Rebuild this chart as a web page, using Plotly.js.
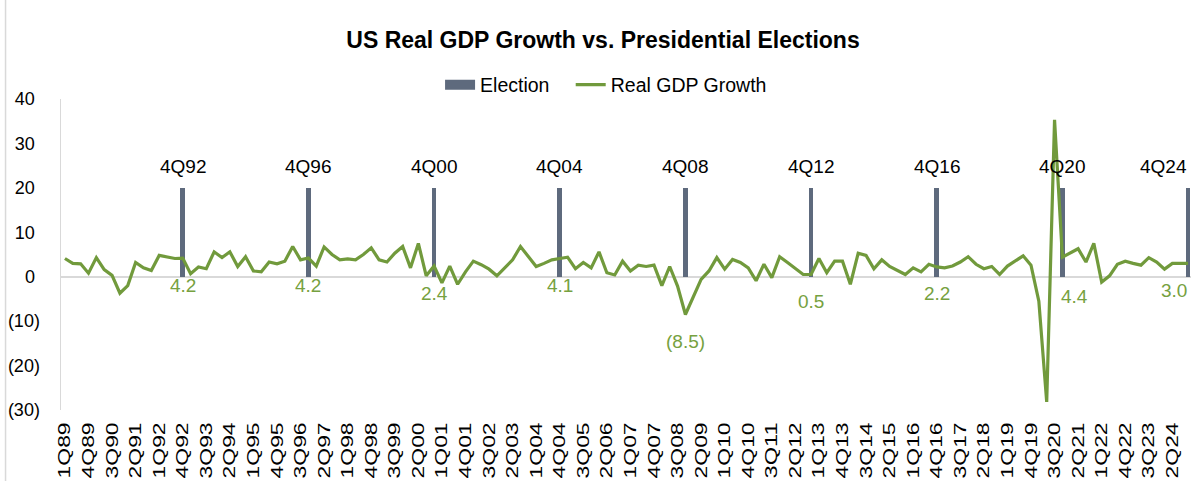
<!DOCTYPE html>
<html>
<head>
<meta charset="utf-8">
<script src="https://cdn.plot.ly/plotly-3.0.1.min.js"></script>
<style>
  html, body { margin: 0; padding: 0; overflow: hidden; background: #ffffff; }
  #chart { width: 1200px; height: 481px; }
</style>
</head>
<body>
<div id="chart"></div>
<script>
// ---------------- DATA ----------------
const startYear = 1989;
const endYear = 2024;

// Real GDP growth, quarterly annualized %, 1Q89 ... 4Q24
const gdpGrowth = [
  4.1, 3.0, 2.9, 0.8, 4.3, 1.6, 0.3, -3.7, -2.0, 3.2, 2.0, 1.4, 4.8, 4.4, 4.1, 4.2, 0.7, 2.2,
  1.8, 5.6, 4.3, 5.6, 2.3, 4.5, 1.3, 1.1, 3.3, 2.9, 3.5, 6.8, 3.8, 4.2, 2.4, 6.7, 5.0, 3.8,
  4.0, 3.8, 5.0, 6.5, 3.8, 3.3, 5.3, 6.8, 2.0, 7.5, 0.2, 2.4, -1.4, 2.4, -1.7, 1.1, 3.5, 2.7,
  1.7, 0.2, 2.0, 3.8, 6.8, 4.5, 2.3, 3.0, 3.8, 4.1, 4.4, 1.8, 3.2, 2.0, 5.6, 0.9, 0.4, 3.5,
  1.3, 2.6, 2.3, 2.6, -2.0, 2.3, -2.1, -8.5, -4.7, -0.6, 1.3, 4.3, 1.7, 3.9, 3.2, 2.0, -0.9, 2.8,
  -0.2, 4.5, 3.2, 1.8, 0.5, 0.5, 4.1, 0.9, 3.5, 3.5, -1.7, 5.3, 4.8, 1.8, 3.8, 2.3, 1.3, 0.5,
  2.0, 1.1, 2.8, 2.2, 2.0, 2.4, 3.3, 4.5, 2.8, 1.8, 2.3, 0.5, 2.4, 3.5, 4.7, 2.6, -5.5, -28.2,
  35.3, 4.4, 5.3, 6.3, 3.3, 7.5, -1.2, 0.2, 2.8, 3.5, 3.0, 2.6, 4.3, 3.3, 1.7, 3.0, 3.0, 3.0
];

// Presidential election quarters and bar height
const electionQuarters = ["4Q92", "4Q96", "4Q00", "4Q04", "4Q08", "4Q12", "4Q16", "4Q20", "4Q24"];
const electionBarHeight = [20, 20, 20, 20, 20, 20, 20, 20, 20];

// Y-axis ticks
const yTickValues = [-30, -20, -10, 0, 10, 20, 30, 40];
const yTickLabels = ["(30)", "(20)", "(10)", "0\u00a0", "10\u00a0", "20\u00a0", "30\u00a0", "40\u00a0"];

// Category labels
const quarters = [];
for (let y = startYear; y <= endYear; y++) {
  for (let q = 1; q <= 4; q++) quarters.push(q + "Q" + String(y % 100).padStart(2, "0"));
}
const xTickLabels = quarters.filter((_, i) => i % 3 === 0);

// ---------------- STYLE ----------------
const FONT = "'Liberation Sans', Arial, Helvetica, sans-serif";
const GREEN = "#719a3c";
const LABEL_GREEN = "#76a140";
const SLATE = "#5e6a7d";
const AXIS_GRAY = "#d9d9d9";

const fmt = v => v < 0 ? "(" + Math.abs(v).toFixed(1) + ")" : v.toFixed(1);

const traces = [
  {
    type: "bar",
    name: "Election",
    x: electionQuarters,
    y: electionBarHeight,
    width: 0.6,
    marker: { color: SLATE },
    showlegend: false,
    legendgroup: "election",
    hoverinfo: "skip"
  },
  {
    // legend swatch for the election bars (wide rectangle, as in the reference)
    type: "scatter",
    mode: "lines",
    name: "Election\u00a0\u00a0\u00a0",
    x: [null],
    y: [null],
    line: { color: SLATE, width: 10 },
    legendgroup: "election",
    showlegend: true
  },
  {
    type: "scatter",
    mode: "lines",
    name: "Real GDP Growth",
    x: quarters,
    y: gdpGrowth,
    line: { color: GREEN, width: 3.2 },
    cliponaxis: false
  }
];

const PLOT_L = 60.5, PLOT_R = 1192.4, PLOT_T = 99, PLOT_B = 410;
const plotW = PLOT_R - PLOT_L, plotH = PLOT_B - PLOT_T;
const VIEW_W = 1191;

const annotations = [];
electionQuarters.forEach((q, k) => {
  const idx = quarters.indexOf(q);
  const v = gdpGrowth[idx];
  const xpx = PLOT_L + (idx + 0.5) * plotW / quarters.length;
  const nearEdge = idx === quarters.length - 1;
  annotations.push({
    x: q, y: electionBarHeight[k], xref: "x", yref: "y",
    text: q, showarrow: false, yshift: 21,
    xanchor: nearEdge ? "right" : "center",
    xshift: nearEdge ? (VIEW_W - 2 - xpx) : 0,
    font: { family: FONT, size: 19, color: "#000000" }
  });
  const special = (q === "4Q20");
  annotations.push({
    x: q, y: v, xref: "x", yref: "y",
    text: fmt(v), showarrow: false,
    yshift: special ? -39 : -27,
    xanchor: nearEdge ? "right" : "center",
    xshift: special ? 12 : (nearEdge ? (VIEW_W - 2 - xpx) : 0),
    font: { family: FONT, size: 19, color: LABEL_GREEN }
  });
});

const layout = {
  width: 1200,
  height: 481,
  margin: { l: PLOT_L, r: 1200 - PLOT_R, t: PLOT_T, b: 481 - PLOT_B, pad: 0 },
  paper_bgcolor: "#ffffff",
  plot_bgcolor: "#ffffff",
  font: { family: FONT, color: "#000000" },
  title: {
    text: "<b>US Real GDP Growth vs. Presidential Elections</b>",
    font: { family: FONT, size: 23, color: "#000000" },
    xref: "container", yref: "container",
    x: 603 / 1200, xanchor: "center",
    y: 1 - 40 / 481, yanchor: "middle"
  },
  showlegend: true,
  legend: {
    orientation: "h",
    x: (606 - PLOT_L) / plotW, xanchor: "center",
    y: (PLOT_B - 85) / plotH, yanchor: "middle",
    font: { family: FONT, size: 19.5, color: "#000000" },
    bgcolor: "rgba(0,0,0,0)",
    traceorder: "normal",
    itemwidth: 30,
    tracegroupgap: 0
  },
  xaxis: {
    type: "category",
    categoryorder: "array",
    categoryarray: quarters,
    range: [-0.5, quarters.length - 0.5],
    tickmode: "array",
    tickvals: xTickLabels,
    ticktext: xTickLabels,
    tickangle: -90,
    tickfont: { family: FONT, size: 17, color: "#000000" },
    ticklabelstandoff: 8,
    showgrid: false,
    showline: false,
    zeroline: false,
    ticks: "",
    fixedrange: true
  },
  yaxis: {
    range: [-30, 40],
    tickmode: "array",
    tickvals: yTickValues,
    ticktext: yTickLabels,
    tickfont: { family: FONT, size: 18, color: "#000000" },
    showgrid: false,
    showline: true,
    linecolor: AXIS_GRAY,
    linewidth: 1.5,
    zeroline: true,
    zerolinecolor: AXIS_GRAY,
    zerolinewidth: 2,
    ticks: "",
    ticklabelstandoff: 16,
    fixedrange: true
  },
  bargap: 0,
  annotations: annotations,
  shapes: [
    {
      type: "line", xref: "paper", yref: "paper",
      x0: (5 - PLOT_L) / plotW, x1: (5 - PLOT_L) / plotW,
      y0: (PLOT_B - 481) / plotH, y1: PLOT_B / plotH,
      line: { color: AXIS_GRAY, width: 1.5 },
      layer: "below"
    }
  ]
};

Plotly.newPlot("chart", traces, layout, { displayModeBar: false, staticPlot: true }).then(() => {
  // the reference's rotated category labels are drawn elongated; stretch them to match
  document.querySelectorAll("#chart .xtick text").forEach(t => {
    t.setAttribute("textLength", "56");
    t.setAttribute("lengthAdjust", "spacingAndGlyphs");
  });
});
</script>
</body>
</html>
